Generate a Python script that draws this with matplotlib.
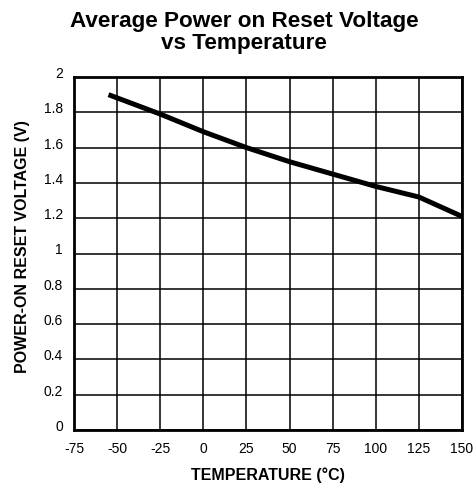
import matplotlib
matplotlib.use('Agg')
import matplotlib.pyplot as plt
import numpy as np

plt.rcParams['font.family'] = ['Liberation Sans', 'DejaVu Sans']

temps = [-55, -25, 0, 25, 50, 75, 100, 125, 150]
volts = [1.90, 1.79, 1.69, 1.60, 1.52, 1.45, 1.38, 1.32, 1.21]
xticks = [-75, -50, -25, 0, 25, 50, 75, 100, 125, 150]
yticks = [0, 0.2, 0.4, 0.6, 0.8, 1, 1.2, 1.4, 1.6, 1.8, 2]
ylabels = ['0', '0.2', '0.4', '0.6', '0.8', '1', '1.2', '1.4', '1.6', '1.8', '2']

fig = plt.figure(figsize=(4.76, 4.85), dpi=100)
ax = fig.add_axes([74 / 476, 1 - 431 / 485, 388 / 476, 353 / 485])

ax.plot(temps, volts, color='black', lw=3.6, solid_capstyle='butt', zorder=3)

ax.set_xlim(-75, 150)
ax.set_ylim(0, 2)
ax.set_xticks(xticks)
ax.set_yticks(yticks)
ax.set_xticklabels([str(t) for t in xticks])
ax.set_yticklabels(ylabels)
ax.tick_params(length=0, labelsize=10)
ax.tick_params(axis='x', pad=8)
ax.tick_params(axis='y', pad=8)
for lab in ax.get_yticklabels():
    lab.set_verticalalignment('baseline')
ax.grid(True, color='black', lw=1.1)
for s in ax.spines.values():
    s.set_linewidth(2)

ax.set_xlabel('TEMPERATURE (\u00b0C)', fontsize=11.5, fontweight='bold')
ax.xaxis.set_label_coords(0.5, -0.103)
ax.set_ylabel('POWER-ON RESET VOLTAGE (V)', fontsize=11.5, fontweight='bold')
ax.yaxis.set_label_coords(-0.114, 0.523)
fig.suptitle('Average Power on Reset Voltage\nvs Temperature', fontsize=16.2,
             fontweight='bold', x=0.513, y=1 - 11 / 485, va='top', linespacing=1.05)

fig.savefig('out.png', dpi=100)
